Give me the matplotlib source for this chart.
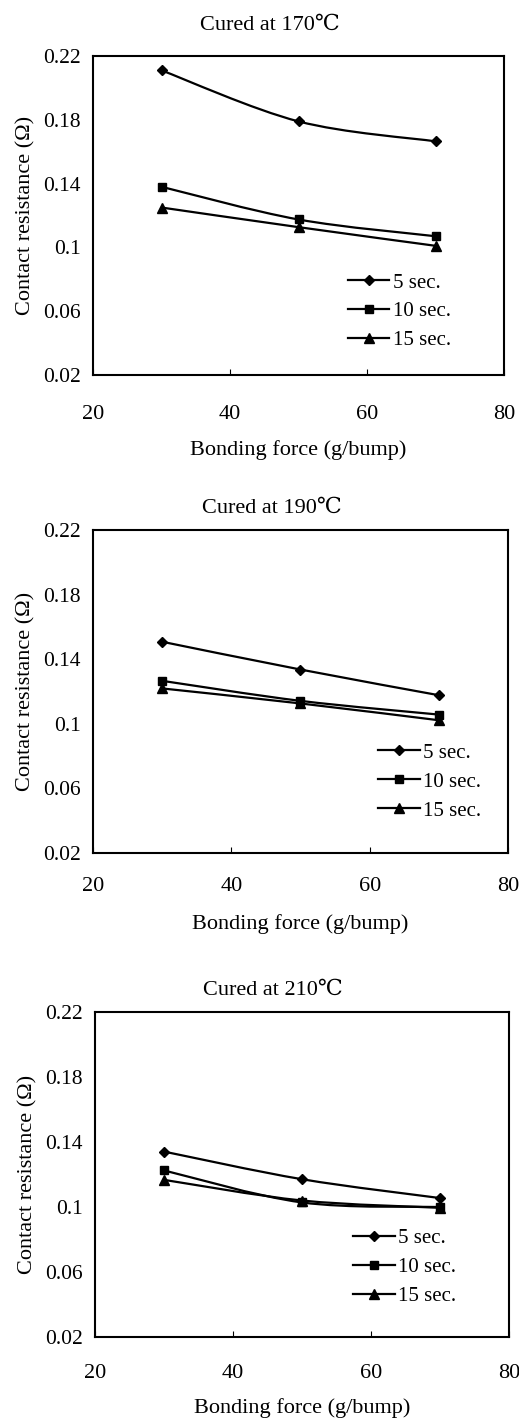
import numpy as np
import matplotlib
matplotlib.use("Agg")
import matplotlib.pyplot as plt
from matplotlib.path import Path
from matplotlib.patches import PathPatch
from matplotlib.lines import Line2D

plt.rcParams['font.family'] = ['Liberation Serif', 'DejaVu Serif']

# bonding force (g/bump)
force = [30, 50, 70]
series_labels = ["5 sec.", "10 sec.", "15 sec."]
temps = ["170", "190", "210"]

# contact resistance (ohm), one list per bonding time
r170_5s = [0.211, 0.179, 0.1665]
r170_10s = [0.138, 0.1175, 0.107]
r170_15s = [0.125, 0.1127, 0.101]

r190_5s = [0.1508, 0.1336, 0.1177]
r190_10s = [0.1266, 0.1142, 0.1057]
r190_15s = [0.1219, 0.1126, 0.1022]

r210_5s = [0.1341, 0.1171, 0.1055]
r210_10s = [0.1225, 0.1028, 0.100]
r210_15s = [0.1167, 0.104, 0.0995]

data = {
    "170": [r170_5s, r170_10s, r170_15s],
    "190": [r190_5s, r190_10s, r190_15s],
    "210": [r210_5s, r210_10s, r210_15s],
}

markers = ["D", "s", "^"]
marker_sizes = [5.5, 6, 6.5]

W, H = 519, 1419
# axes boxes in pixels: left, right, top, bottom
boxes = [(93, 504, 56, 375), (93, 508, 530, 853), (95, 509, 1012, 1337)]
legend_anchor = [(0.62, 0.32), (0.687, 0.34), (0.623, 0.334)]
title_pad = [19, 12, 12]
tick_pad = [21.5, 17.5, 19.5]
xlabel_pad = [12, 13, 10.5]


def smooth_path(x, y):
    # excel-style smoothed line: cubic bezier through the points
    pts = np.column_stack([x, y]).astype(float)
    n = len(pts)
    verts = [pts[0]]
    codes = [Path.MOVETO]
    for i in range(n - 1):
        p0 = pts[i - 1] if i > 0 else pts[i]
        p1 = pts[i]
        p2 = pts[i + 1]
        p3 = pts[i + 2] if i + 2 < n else pts[i + 1]
        c1 = p1 + (p2 - p0) / 6.0
        c2 = p2 - (p3 - p1) / 6.0
        verts += [c1, c2, p2]
        codes += [Path.CURVE4] * 3
    return Path(verts, codes)


fig = plt.figure(figsize=(W / 100, H / 100), dpi=100)

for k, temp in enumerate(temps):
    left, right, top, bottom = boxes[k]
    ax = fig.add_axes([left / W, 1 - bottom / H, (right - left) / W, (bottom - top) / H])
    handles = []
    for j, vals in enumerate(data[temp]):
        ax.add_patch(PathPatch(smooth_path(force, vals), facecolor="none",
                               edgecolor="black", lw=1.6, transform=ax.transData))
        ax.plot(force, vals, linestyle="none", marker=markers[j],
                markersize=marker_sizes[j], color="black")
        handles.append(Line2D([], [], color="black", lw=1.6, marker=markers[j],
                              markersize=marker_sizes[j]))

    ax.set_xlim(20, 80)
    ax.set_ylim(0.02, 0.22)
    ax.set_xticks([20, 40, 60, 80])
    ax.set_yticks([0.02, 0.06, 0.1, 0.14, 0.18, 0.22])
    ax.set_yticklabels(["0.02", "0.06", "0.1", "0.14", "0.18", "0.22"])
    ax.tick_params(axis="x", direction="in", length=4, width=0.8, pad=tick_pad[k], labelsize=16)
    ax.tick_params(axis="y", length=0, pad=9, labelsize=15.5)
    for s in ax.spines.values():
        s.set_linewidth(1.5)

    ax.set_title(f"Cured at {temp}℃", fontsize=16, pad=title_pad[k], x=0.43)
    ax.set_xlabel("Bonding force (g/bump)", fontsize=16, labelpad=xlabel_pad[k])
    ax.set_ylabel("Contact resistance (Ω)", fontsize=16, labelpad=5)

    ax.legend(handles, series_labels, loc="upper left", bbox_to_anchor=legend_anchor[k],
              frameon=False, fontsize=15, handlelength=2.0, handletextpad=0.15,
              labelspacing=0.45, borderpad=0, borderaxespad=0)

fig.savefig("out.png", dpi=100)
